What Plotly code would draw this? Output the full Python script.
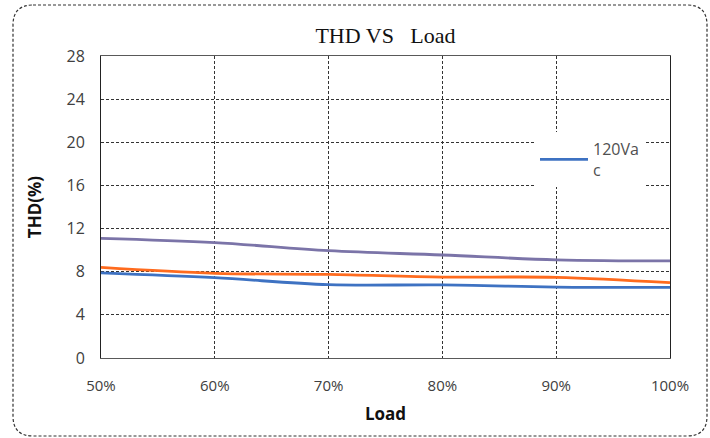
import plotly.graph_objects as go

loads = [50, 60, 70, 80, 90, 100]
thd_120 = [7.9, 7.45, 6.8, 6.78, 6.58, 6.55]
thd_orange = [8.4, 7.85, 7.75, 7.5, 7.48, 6.98]
thd_purple = [11.1, 10.7, 9.95, 9.55, 9.1, 9.0]
y_ticks = [0, 4, 8, 12, 16, 20, 24, 28]

W, H = 710, 438
L, R, T, B = 101, 40, 56, 80
pw, ph = W - L - R, H - T - B

def px(x):
    return (x - L) / pw

def py(y):
    return (H - B - y) / ph

fig = go.Figure()
fig.add_trace(go.Scatter(x=loads, y=thd_purple, mode="lines", line=dict(color="#7B74A8", width=2.8, shape="spline"), showlegend=False))
fig.add_trace(go.Scatter(x=loads, y=thd_orange, mode="lines", line=dict(color="#FF6B1E", width=2.8, shape="spline"), showlegend=False))
fig.add_trace(go.Scatter(x=loads, y=thd_120, mode="lines", name="120Va<br>c", line=dict(color="#3E72C2", width=2.8, shape="spline")))

# rounded dashed outer border
x0, x1, y0, y1, r = 13, 707, 5, 436, 20
path = (f"M {px(x0+r)},{py(y0)} L {px(x1-r)},{py(y0)} Q {px(x1)},{py(y0)} {px(x1)},{py(y0+r)} "
        f"L {px(x1)},{py(y1-r)} Q {px(x1)},{py(y1)} {px(x1-r)},{py(y1)} "
        f"L {px(x0+r)},{py(y1)} Q {px(x0)},{py(y1)} {px(x0)},{py(y1-r)} "
        f"L {px(x0)},{py(y0+r)} Q {px(x0)},{py(y0)} {px(x0+r)},{py(y0)} Z")
fig.add_shape(type="path", path=path, xref="paper", yref="paper", line=dict(color="#333333", width=1.2, dash="3px,2px"), layer="below")

fig.update_layout(
    width=W, height=H,
    margin=dict(l=L, r=R, t=T, b=B),
    paper_bgcolor="white", plot_bgcolor="white",
    title=dict(text="THD VS\u00a0\u00a0\u00a0Load", x=0.5, xanchor="center", xref="paper", y=1 - 35 / H, yanchor="middle",
               font=dict(family="Liberation Serif", size=22, color="#111111")),
    legend=dict(x=px(535), y=py(132), xanchor="left", yanchor="top", bgcolor="white",
                font=dict(family="Open Sans", size=16, color="#505050"), itemwidth=48,
                tracegroupgap=0),
)
fig.update_xaxes(range=[50, 100], tickvals=loads, ticktext=[f"{v}%" for v in loads],
                 showgrid=True, gridcolor="#333333", griddash="3px,2px", gridwidth=1,
                 showline=True, linecolor="#595959", linewidth=1, mirror=True,
                 tickfont=dict(family="Open Sans", size=15, color="#404040"), ticks="", zeroline=False,
                 ticklabelstandoff=14,
                 title=dict(text="<b>Load</b>", font=dict(family="Open Sans", size=17, color="#111111"), standoff=14))
fig.update_yaxes(range=[0, 28], tickvals=y_ticks,
                 showgrid=True, gridcolor="#333333", griddash="3px,2px", gridwidth=1,
                 showline=True, linecolor="#222222", linewidth=1, mirror=True,
                 tickfont=dict(family="Open Sans", size=16, color="#404040"), ticks="", zeroline=False,
                 ticklabelstandoff=12,
                 title=dict(text="<b>THD(%)</b>", font=dict(family="Open Sans", size=17, color="#111111"), standoff=20))

fig.write_html("out.html", config={"displayModeBar": False},
               post_script="document.body.style.margin='0';document.body.style.overflow='hidden';")
